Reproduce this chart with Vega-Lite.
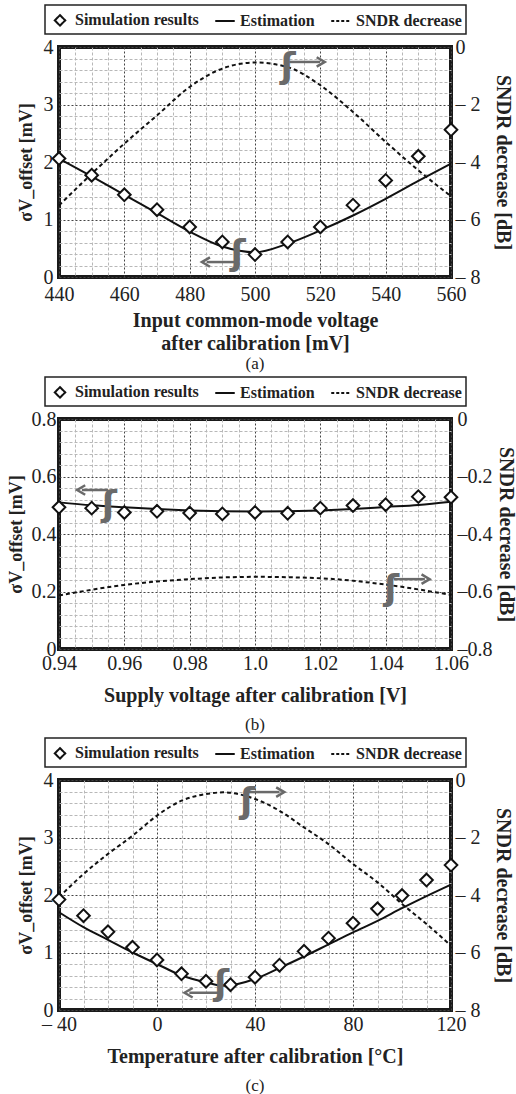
{
  "$schema": "https://vega.github.io/schema/vega-lite/v6.json",
  "padding": {"left": 5, "top": 2, "right": 0, "bottom": 0},
  "spacing": 0,
  "resolve": {"scale": {"color": "independent"}, "legend": {"color": "independent"}},
  "config": {
    "font": "Liberation Serif",
    "background": "white",
    "view": {"stroke": "#1a1a1a", "strokeWidth": 4},
    "axis": {
      "labelFont": "Liberation Serif", "labelFontSize": 20, "labelColor": "#222",
      "titleFont": "Liberation Serif", "titleFontSize": 20, "titleFontWeight": "bold", "titleColor": "#222",
      "ticks": false, "domain": false, "labelOverlap": false, "labelFlush": false
    },
    "legend": {
      "orient": "none", "legendX": -14, "legendY": -42, "direction": "horizontal",
      "strokeColor": "#222", "strokeWidth": 1.5, "padding": 4, "columnPadding": 12,
      "labelFont": "Liberation Serif", "labelFontSize": 16, "labelFontWeight": "bold", "labelColor": "#222",
      "symbolSize": 400, "symbolStrokeWidth": 2, "title": null,
      "labelOffset": 4
    },
    "title": {"font": "Liberation Serif", "fontSize": 17, "fontWeight": "normal", "orient": "bottom", "color": "#222"}
  },
  "vconcat": [
    {
      "width": 392, "height": 230,
      "title": {"text": "(a)", "offset": 3},
      "data": {"values": [
        {"series": "Simulation results", "x": 440, "y": 2.06},
        {"series": "Simulation results", "x": 450, "y": 1.77},
        {"series": "Simulation results", "x": 460, "y": 1.43},
        {"series": "Simulation results", "x": 470, "y": 1.17},
        {"series": "Simulation results", "x": 480, "y": 0.87},
        {"series": "Simulation results", "x": 490, "y": 0.61},
        {"series": "Simulation results", "x": 500, "y": 0.39},
        {"series": "Simulation results", "x": 510, "y": 0.61},
        {"series": "Simulation results", "x": 520, "y": 0.87},
        {"series": "Simulation results", "x": 530, "y": 1.25},
        {"series": "Simulation results", "x": 540, "y": 1.68},
        {"series": "Simulation results", "x": 550, "y": 2.10},
        {"series": "Simulation results", "x": 560, "y": 2.56},
        {"series": "Estimation", "x": 440, "y": 2.06},
        {"series": "Estimation", "x": 450, "y": 1.75},
        {"series": "Estimation", "x": 460, "y": 1.43},
        {"series": "Estimation", "x": 470, "y": 1.11},
        {"series": "Estimation", "x": 480, "y": 0.79},
        {"series": "Estimation", "x": 490, "y": 0.53},
        {"series": "Estimation", "x": 500, "y": 0.43},
        {"series": "Estimation", "x": 510, "y": 0.58},
        {"series": "Estimation", "x": 520, "y": 0.81},
        {"series": "Estimation", "x": 530, "y": 1.07},
        {"series": "Estimation", "x": 540, "y": 1.36},
        {"series": "Estimation", "x": 550, "y": 1.67},
        {"series": "Estimation", "x": 560, "y": 1.97},
        {"series": "SNDR decrease", "x": 440, "y": -5.51},
        {"series": "SNDR decrease", "x": 450, "y": -4.41},
        {"series": "SNDR decrease", "x": 460, "y": -3.36},
        {"series": "SNDR decrease", "x": 470, "y": -2.38},
        {"series": "SNDR decrease", "x": 480, "y": -1.39},
        {"series": "SNDR decrease", "x": 490, "y": -0.75},
        {"series": "SNDR decrease", "x": 500, "y": -0.54},
        {"series": "SNDR decrease", "x": 510, "y": -0.70},
        {"series": "SNDR decrease", "x": 520, "y": -1.33},
        {"series": "SNDR decrease", "x": 530, "y": -2.26},
        {"series": "SNDR decrease", "x": 540, "y": -3.30},
        {"series": "SNDR decrease", "x": 550, "y": -4.29},
        {"series": "SNDR decrease", "x": 560, "y": -5.19},
        {"series": "curl", "x": 494.8, "y": 0.40},
        {"series": "curl", "x": 510.1, "y": 3.66},
        {"series": "arrow", "dir": "left", "x": 485.2, "x2": 494.2, "y": 0.26},
        {"series": "arrow", "dir": "right", "x": 510.5, "x2": 519.9, "y": 3.74}
      ]},
      "encoding": {
        "x": {"field": "x", "type": "quantitative",
          "scale": {"domain": [440, 560], "nice": false, "zero": false},
          "axis": {
            "values": [440,445,450,455,460,465,470,475,480,485,490,495,500,505,510,515,520,525,530,535,540,545,550,555,560],
            "grid": true,
            "gridColor": {"condition": {"test": "datum.value % 20 === 0", "value": "#444"}, "value": "#b8b8b8"},
            "gridDash": {"condition": {"test": "datum.value % 20 === 0", "value": [2, 2]}, "value": [3, 2]},
            "labelExpr": "datum.value % 20 === 0 ? '' + datum.value : ''",
            "labelPadding": 7,
            "title": ["Input common-mode voltage", "after calibration [mV]"],
            "titleLineHeight": 23,
            "titlePadding": 6
          }}
      },
      "layer": [
        {
          "transform": [{"filter": "datum.series === 'Estimation'"}],
          "mark": {"type": "line", "strokeWidth": 2, "interpolate": "monotone"},
          "encoding": {
            "color": {"field": "series", "type": "nominal",
              "scale": {"domain": ["Simulation results", "Estimation", "SNDR decrease"], "range": ["#111", "#111", "#111"]},
              "legend": {
                "encode": {"symbols": {"update": {
                  "shape": {"signal": "datum.value === 'Simulation results' ? 'diamond' : 'stroke'"},
                  "size": {"signal": "datum.value === 'Simulation results' ? 110 : 380"},
                  "fill": {"signal": "datum.value === 'Simulation results' ? 'white' : 'transparent'"},
                  "stroke": {"value": "#111"},
                  "strokeWidth": {"value": 2},
                  "strokeDash": {"signal": "datum.value === 'SNDR decrease' ? [3, 2] : [1, 0]"},
                  "opacity": {"value": 1}
                }}}
              }},
            "y": {"field": "y", "type": "quantitative",
            "scale": {"domain": [0, 4], "nice": false},
            "axis": {
              "orient": "left",
              "values": [0,0.2,0.4,0.6,0.8,1,1.2,1.4,1.6,1.8,2,2.2,2.4,2.6,2.8,3,3.2,3.4,3.6,3.8,4],
              "grid": true,
              "gridColor": {"condition": {"test": "abs(datum.value - round(datum.value)) < 1e-6", "value": "#444"}, "value": "#b8b8b8"},
              "gridDash": {"condition": {"test": "abs(datum.value - round(datum.value)) < 1e-6", "value": [2, 2]}, "value": [3, 2]},
              "labelExpr": "abs(datum.value - round(datum.value)) < 1e-6 ? '' + round(datum.value) : ''",
              "labelPadding": 6,
              "title": "σV_offset [mV]", "titleFontSize": 18, "titlePadding": 8
            }}}
        },
        {
          "transform": [{"filter": "datum.series === 'SNDR decrease'"}],
          "mark": {"type": "line", "strokeWidth": 2, "strokeDash": [4, 3], "interpolate": "monotone"},
          "encoding": {
            "color": {"field": "series", "type": "nominal"},
            "y": {"field": "y", "type": "quantitative",
            "scale": {"domain": [-8, 0], "nice": false},
            "axis": {
              "orient": "right", "values": [-8, -6, -4, -2, 0], "grid": false,
              "labelExpr": "datum.value < 0 ? '– ' + abs(datum.value) : '\u2002' + '0'",
              "labelPadding": 4,
              "title": "SNDR decrease [dB]", "titlePadding": 12
            }}}
        },
        {
          "transform": [{"filter": "datum.series === 'Simulation results'"}],
          "mark": {"type": "point", "shape": "diamond", "size": 160, "filled": false, "fill": "white", "strokeWidth": 2, "opacity": 1},
          "encoding": {
            "color": {"field": "series", "type": "nominal"},
            "y": {"field": "y", "type": "quantitative", "scale": {"domain": [0, 4], "nice": false}, "axis": null}}
        },
        {
          "transform": [{"filter": "datum.series === 'arrow'"}],
          "mark": {"type": "rule", "color": "#6a6a6a", "strokeWidth": 2.5},
          "encoding": {
            "x2": {"field": "x2"},
            "y": {"field": "y", "type": "quantitative", "scale": {"domain": [0, 4], "nice": false}, "axis": null}}
        },
        {
          "transform": [{"filter": "datum.series === 'arrow' && datum.dir === 'left'"}],
          "mark": {"type": "point", "shape": "M0.7,-1L-1,0L0.7,1", "size": 90, "filled": false, "color": "#6a6a6a", "strokeWidth": 2.5, "opacity": 1},
          "encoding": {
            "y": {"field": "y", "type": "quantitative", "scale": {"domain": [0, 4], "nice": false}, "axis": null}}
        },
        {
          "transform": [{"filter": "datum.series === 'arrow' && datum.dir === 'right'"}],
          "mark": {"type": "point", "shape": "M-0.7,-1L1,0L-0.7,1", "size": 90, "filled": false, "color": "#6a6a6a", "strokeWidth": 2.5, "opacity": 1},
          "encoding": {
            "x": {"field": "x2", "type": "quantitative"},
            "y": {"field": "y", "type": "quantitative", "scale": {"domain": [0, 4], "nice": false}, "axis": null}}
        },
        {
          "transform": [{"filter": "datum.series === 'curl'"}],
          "mark": {"type": "text", "text": "ʃ", "font": "DejaVu Sans", "fontSize": 36, "fontWeight": "bold", "color": "#6a6a6a", "baseline": "middle", "align": "center"},
          "encoding": {
            "y": {"field": "y", "type": "quantitative", "scale": {"domain": [0, 4], "nice": false}, "axis": null}}
        }
      ],
      "resolve": {"scale": {"y": "independent"}}
    },
    {
      "width": 392, "height": 230,
      "title": {"text": "(b)", "offset": 12},
      "data": {"values": [
        {"series": "Simulation results", "x": 0.94, "y": 0.493},
        {"series": "Simulation results", "x": 0.95, "y": 0.490},
        {"series": "Simulation results", "x": 0.96, "y": 0.475},
        {"series": "Simulation results", "x": 0.97, "y": 0.479},
        {"series": "Simulation results", "x": 0.98, "y": 0.473},
        {"series": "Simulation results", "x": 0.99, "y": 0.470},
        {"series": "Simulation results", "x": 1.00, "y": 0.475},
        {"series": "Simulation results", "x": 1.01, "y": 0.472},
        {"series": "Simulation results", "x": 1.02, "y": 0.490},
        {"series": "Simulation results", "x": 1.03, "y": 0.499},
        {"series": "Simulation results", "x": 1.04, "y": 0.502},
        {"series": "Simulation results", "x": 1.05, "y": 0.530},
        {"series": "Simulation results", "x": 1.06, "y": 0.528},
        {"series": "Estimation", "x": 0.94, "y": 0.510},
        {"series": "Estimation", "x": 0.95, "y": 0.500},
        {"series": "Estimation", "x": 0.96, "y": 0.493},
        {"series": "Estimation", "x": 0.97, "y": 0.487},
        {"series": "Estimation", "x": 0.98, "y": 0.482},
        {"series": "Estimation", "x": 0.99, "y": 0.479},
        {"series": "Estimation", "x": 1.00, "y": 0.478},
        {"series": "Estimation", "x": 1.01, "y": 0.479},
        {"series": "Estimation", "x": 1.02, "y": 0.482},
        {"series": "Estimation", "x": 1.03, "y": 0.487},
        {"series": "Estimation", "x": 1.04, "y": 0.494},
        {"series": "Estimation", "x": 1.05, "y": 0.501},
        {"series": "Estimation", "x": 1.06, "y": 0.512},
        {"series": "SNDR decrease", "x": 0.94, "y": -0.614},
        {"series": "SNDR decrease", "x": 0.96, "y": -0.577},
        {"series": "SNDR decrease", "x": 0.98, "y": -0.557},
        {"series": "SNDR decrease", "x": 1.00, "y": -0.549},
        {"series": "SNDR decrease", "x": 1.02, "y": -0.554},
        {"series": "SNDR decrease", "x": 1.04, "y": -0.576},
        {"series": "SNDR decrease", "x": 1.06, "y": -0.612},
        {"series": "curl", "x": 0.9554, "y": 0.50},
        {"series": "curl", "x": 1.0418, "y": 0.21},
        {"series": "arrow", "dir": "left", "x": 0.9470, "x2": 0.9550, "y": 0.553},
        {"series": "arrow", "dir": "right", "x": 1.0425, "x2": 1.0520, "y": 0.243}
      ]},
      "encoding": {
        "x": {"field": "x", "type": "quantitative",
          "scale": {"domain": [0.94, 1.06], "nice": false, "zero": false},
          "axis": {
            "values": [0.94,0.945,0.95,0.955,0.96,0.965,0.97,0.975,0.98,0.985,0.99,0.995,1,1.005,1.01,1.015,1.02,1.025,1.03,1.035,1.04,1.045,1.05,1.055,1.06],
            "grid": true,
            "gridColor": {"condition": {"test": "abs(datum.value * 50 - round(datum.value * 50)) < 1e-6", "value": "#444"}, "value": "#b8b8b8"},
            "gridDash": {"condition": {"test": "abs(datum.value * 50 - round(datum.value * 50)) < 1e-6", "value": [2, 2]}, "value": [3, 2]},
            "labelExpr": "abs(datum.value * 50 - round(datum.value * 50)) < 1e-6 ? (abs(datum.value - 1) < 1e-6 ? '1.0' : format(datum.value, '.2f')) : ''",
            "labelPadding": 4,
            "title": "Supply voltage after calibration [V]",
            "titlePadding": 12
          }}
      },
      "layer": [
        {
          "transform": [{"filter": "datum.series === 'Estimation'"}],
          "mark": {"type": "line", "strokeWidth": 2, "interpolate": "monotone"},
          "encoding": {
            "color": {"field": "series", "type": "nominal",
              "scale": {"domain": ["Simulation results", "Estimation", "SNDR decrease"], "range": ["#111", "#111", "#111"]},
              "legend": {
                "encode": {"symbols": {"update": {
                  "shape": {"signal": "datum.value === 'Simulation results' ? 'diamond' : 'stroke'"},
                  "size": {"signal": "datum.value === 'Simulation results' ? 110 : 380"},
                  "fill": {"signal": "datum.value === 'Simulation results' ? 'white' : 'transparent'"},
                  "stroke": {"value": "#111"},
                  "strokeWidth": {"value": 2},
                  "strokeDash": {"signal": "datum.value === 'SNDR decrease' ? [3, 2] : [1, 0]"},
                  "opacity": {"value": 1}
                }}}
              }},
            "y": {"field": "y", "type": "quantitative",
            "scale": {"domain": [0, 0.8], "nice": false},
            "axis": {
              "orient": "left",
              "values": [0,0.04,0.08,0.12,0.16,0.2,0.24,0.28,0.32,0.36,0.4,0.44,0.48,0.52,0.56,0.6,0.64,0.68,0.72,0.76,0.8],
              "grid": true,
              "gridColor": {"condition": {"test": "abs(datum.value * 5 - round(datum.value * 5)) < 1e-6", "value": "#444"}, "value": "#b8b8b8"},
              "gridDash": {"condition": {"test": "abs(datum.value * 5 - round(datum.value * 5)) < 1e-6", "value": [2, 2]}, "value": [3, 2]},
              "labelExpr": "abs(datum.value * 5 - round(datum.value * 5)) < 1e-6 ? (abs(datum.value) < 1e-6 ? '0' : format(datum.value, '.1f')) : ''",
              "labelPadding": 3,
              "title": "σV_offset [mV]", "titleFontSize": 18, "titlePadding": 6
            }}}
        },
        {
          "transform": [{"filter": "datum.series === 'SNDR decrease'"}],
          "mark": {"type": "line", "strokeWidth": 2, "strokeDash": [4, 3], "interpolate": "monotone"},
          "encoding": {
            "color": {"field": "series", "type": "nominal"},
            "y": {"field": "y", "type": "quantitative",
            "scale": {"domain": [-0.8, 0], "nice": false},
            "axis": {
              "orient": "right", "values": [-0.8, -0.6, -0.4, -0.2, 0], "grid": false,
              "labelExpr": "datum.value < 0 ? '–' + format(abs(datum.value), '.1f') : '\u2002' + '0'",
              "labelPadding": 6,
              "title": "SNDR decrease [dB]", "titlePadding": 3
            }}}
        },
        {
          "transform": [{"filter": "datum.series === 'Simulation results'"}],
          "mark": {"type": "point", "shape": "diamond", "size": 160, "filled": false, "fill": "white", "strokeWidth": 2, "opacity": 1},
          "encoding": {
            "color": {"field": "series", "type": "nominal"},
            "y": {"field": "y", "type": "quantitative", "scale": {"domain": [0, 0.8], "nice": false}, "axis": null}}
        },
        {
          "transform": [{"filter": "datum.series === 'arrow'"}],
          "mark": {"type": "rule", "color": "#6a6a6a", "strokeWidth": 2.5},
          "encoding": {
            "x2": {"field": "x2"},
            "y": {"field": "y", "type": "quantitative", "scale": {"domain": [0, 0.8], "nice": false}, "axis": null}}
        },
        {
          "transform": [{"filter": "datum.series === 'arrow' && datum.dir === 'left'"}],
          "mark": {"type": "point", "shape": "M0.7,-1L-1,0L0.7,1", "size": 90, "filled": false, "color": "#6a6a6a", "strokeWidth": 2.5, "opacity": 1},
          "encoding": {
            "y": {"field": "y", "type": "quantitative", "scale": {"domain": [0, 0.8], "nice": false}, "axis": null}}
        },
        {
          "transform": [{"filter": "datum.series === 'arrow' && datum.dir === 'right'"}],
          "mark": {"type": "point", "shape": "M-0.7,-1L1,0L-0.7,1", "size": 90, "filled": false, "color": "#6a6a6a", "strokeWidth": 2.5, "opacity": 1},
          "encoding": {
            "x": {"field": "x2", "type": "quantitative"},
            "y": {"field": "y", "type": "quantitative", "scale": {"domain": [0, 0.8], "nice": false}, "axis": null}}
        },
        {
          "transform": [{"filter": "datum.series === 'curl'"}],
          "mark": {"type": "text", "text": "ʃ", "font": "DejaVu Sans", "fontSize": 36, "fontWeight": "bold", "color": "#6a6a6a", "baseline": "middle", "align": "center"},
          "encoding": {
            "y": {"field": "y", "type": "quantitative", "scale": {"domain": [0, 0.8], "nice": false}, "axis": null}}
        }
      ],
      "resolve": {"scale": {"y": "independent"}}
    },
    {
      "width": 392, "height": 230,
      "title": {"text": "(c)", "offset": 12},
      "data": {"values": [
        {"series": "Simulation results", "x": -40, "y": 1.92},
        {"series": "Simulation results", "x": -30, "y": 1.64},
        {"series": "Simulation results", "x": -20, "y": 1.36},
        {"series": "Simulation results", "x": -10, "y": 1.09},
        {"series": "Simulation results", "x": 0, "y": 0.87},
        {"series": "Simulation results", "x": 10, "y": 0.63},
        {"series": "Simulation results", "x": 20, "y": 0.50},
        {"series": "Simulation results", "x": 30, "y": 0.44},
        {"series": "Simulation results", "x": 40, "y": 0.57},
        {"series": "Simulation results", "x": 50, "y": 0.78},
        {"series": "Simulation results", "x": 60, "y": 1.02},
        {"series": "Simulation results", "x": 70, "y": 1.25},
        {"series": "Simulation results", "x": 80, "y": 1.51},
        {"series": "Simulation results", "x": 90, "y": 1.76},
        {"series": "Simulation results", "x": 100, "y": 1.99},
        {"series": "Simulation results", "x": 110, "y": 2.26},
        {"series": "Simulation results", "x": 120, "y": 2.52},
        {"series": "Estimation", "x": -40, "y": 1.70},
        {"series": "Estimation", "x": -30, "y": 1.44},
        {"series": "Estimation", "x": -20, "y": 1.22},
        {"series": "Estimation", "x": -10, "y": 1.00},
        {"series": "Estimation", "x": 0, "y": 0.80},
        {"series": "Estimation", "x": 10, "y": 0.60},
        {"series": "Estimation", "x": 20, "y": 0.48},
        {"series": "Estimation", "x": 27, "y": 0.42},
        {"series": "Estimation", "x": 40, "y": 0.54},
        {"series": "Estimation", "x": 50, "y": 0.73},
        {"series": "Estimation", "x": 60, "y": 0.93},
        {"series": "Estimation", "x": 70, "y": 1.14},
        {"series": "Estimation", "x": 80, "y": 1.35},
        {"series": "Estimation", "x": 90, "y": 1.55},
        {"series": "Estimation", "x": 100, "y": 1.77},
        {"series": "Estimation", "x": 110, "y": 1.98},
        {"series": "Estimation", "x": 120, "y": 2.18},
        {"series": "SNDR decrease", "x": -40, "y": -4.08},
        {"series": "SNDR decrease", "x": -30, "y": -3.27},
        {"series": "SNDR decrease", "x": -20, "y": -2.57},
        {"series": "SNDR decrease", "x": -10, "y": -1.94},
        {"series": "SNDR decrease", "x": 0, "y": -1.24},
        {"series": "SNDR decrease", "x": 10, "y": -0.72},
        {"series": "SNDR decrease", "x": 20, "y": -0.49},
        {"series": "SNDR decrease", "x": 27, "y": -0.43},
        {"series": "SNDR decrease", "x": 40, "y": -0.66},
        {"series": "SNDR decrease", "x": 50, "y": -1.07},
        {"series": "SNDR decrease", "x": 60, "y": -1.65},
        {"series": "SNDR decrease", "x": 70, "y": -2.23},
        {"series": "SNDR decrease", "x": 80, "y": -2.92},
        {"series": "SNDR decrease", "x": 90, "y": -3.56},
        {"series": "SNDR decrease", "x": 100, "y": -4.31},
        {"series": "SNDR decrease", "x": 110, "y": -5.01},
        {"series": "SNDR decrease", "x": 120, "y": -5.76},
        {"series": "curl", "x": 26.3, "y": 0.45},
        {"series": "curl", "x": 36.9, "y": 3.62},
        {"series": "arrow", "dir": "left", "x": 13.2, "x2": 25.5, "y": 0.30},
        {"series": "arrow", "dir": "right", "x": 37.5, "x2": 50.0, "y": 3.79}
      ]},
      "encoding": {
        "x": {"field": "x", "type": "quantitative",
          "scale": {"domain": [-40, 120], "nice": false, "zero": false},
          "axis": {
            "values": [-40,-30,-20,-10,0,10,20,30,40,50,60,70,80,90,100,110,120],
            "grid": true,
            "gridColor": {"condition": {"test": "datum.value % 40 === 0", "value": "#444"}, "value": "#b8b8b8"},
            "gridDash": {"condition": {"test": "datum.value % 40 === 0", "value": [2, 2]}, "value": [3, 2]},
            "labelExpr": "datum.value % 40 === 0 ? (datum.value < 0 ? '– ' + abs(datum.value) : '' + datum.value) : ''",
            "labelPadding": 4,
            "title": "Temperature after calibration [°C]",
            "titlePadding": 12
          }}
      },
      "layer": [
        {
          "transform": [{"filter": "datum.series === 'Estimation'"}],
          "mark": {"type": "line", "strokeWidth": 2, "interpolate": "monotone"},
          "encoding": {
            "color": {"field": "series", "type": "nominal",
              "scale": {"domain": ["Simulation results", "Estimation", "SNDR decrease"], "range": ["#111", "#111", "#111"]},
              "legend": {
                "encode": {"symbols": {"update": {
                  "shape": {"signal": "datum.value === 'Simulation results' ? 'diamond' : 'stroke'"},
                  "size": {"signal": "datum.value === 'Simulation results' ? 110 : 380"},
                  "fill": {"signal": "datum.value === 'Simulation results' ? 'white' : 'transparent'"},
                  "stroke": {"value": "#111"},
                  "strokeWidth": {"value": 2},
                  "strokeDash": {"signal": "datum.value === 'SNDR decrease' ? [3, 2] : [1, 0]"},
                  "opacity": {"value": 1}
                }}}
              }},
            "y": {"field": "y", "type": "quantitative",
            "scale": {"domain": [0, 4], "nice": false},
            "axis": {
              "orient": "left",
              "values": [0,0.2,0.4,0.6,0.8,1,1.2,1.4,1.6,1.8,2,2.2,2.4,2.6,2.8,3,3.2,3.4,3.6,3.8,4],
              "grid": true,
              "gridColor": {"condition": {"test": "abs(datum.value - round(datum.value)) < 1e-6", "value": "#444"}, "value": "#b8b8b8"},
              "gridDash": {"condition": {"test": "abs(datum.value - round(datum.value)) < 1e-6", "value": [2, 2]}, "value": [3, 2]},
              "labelExpr": "abs(datum.value - round(datum.value)) < 1e-6 ? '' + round(datum.value) : ''",
              "labelPadding": 6,
              "title": "σV_offset [mV]", "titleFontSize": 18, "titlePadding": 8
            }}}
        },
        {
          "transform": [{"filter": "datum.series === 'SNDR decrease'"}],
          "mark": {"type": "line", "strokeWidth": 2, "strokeDash": [4, 3], "interpolate": "monotone"},
          "encoding": {
            "color": {"field": "series", "type": "nominal"},
            "y": {"field": "y", "type": "quantitative",
            "scale": {"domain": [-8, 0], "nice": false},
            "axis": {
              "orient": "right", "values": [-8, -6, -4, -2, 0], "grid": false,
              "labelExpr": "datum.value < 0 ? '– ' + abs(datum.value) : '\u2002' + '0'",
              "labelPadding": 4,
              "title": "SNDR decrease [dB]", "titlePadding": 12
            }}}
        },
        {
          "transform": [{"filter": "datum.series === 'Simulation results'"}],
          "mark": {"type": "point", "shape": "diamond", "size": 160, "filled": false, "fill": "white", "strokeWidth": 2, "opacity": 1},
          "encoding": {
            "color": {"field": "series", "type": "nominal"},
            "y": {"field": "y", "type": "quantitative", "scale": {"domain": [0, 4], "nice": false}, "axis": null}}
        },
        {
          "transform": [{"filter": "datum.series === 'arrow'"}],
          "mark": {"type": "rule", "color": "#6a6a6a", "strokeWidth": 2.5},
          "encoding": {
            "x2": {"field": "x2"},
            "y": {"field": "y", "type": "quantitative", "scale": {"domain": [0, 4], "nice": false}, "axis": null}}
        },
        {
          "transform": [{"filter": "datum.series === 'arrow' && datum.dir === 'left'"}],
          "mark": {"type": "point", "shape": "M0.7,-1L-1,0L0.7,1", "size": 90, "filled": false, "color": "#6a6a6a", "strokeWidth": 2.5, "opacity": 1},
          "encoding": {
            "y": {"field": "y", "type": "quantitative", "scale": {"domain": [0, 4], "nice": false}, "axis": null}}
        },
        {
          "transform": [{"filter": "datum.series === 'arrow' && datum.dir === 'right'"}],
          "mark": {"type": "point", "shape": "M-0.7,-1L1,0L-0.7,1", "size": 90, "filled": false, "color": "#6a6a6a", "strokeWidth": 2.5, "opacity": 1},
          "encoding": {
            "x": {"field": "x2", "type": "quantitative"},
            "y": {"field": "y", "type": "quantitative", "scale": {"domain": [0, 4], "nice": false}, "axis": null}}
        },
        {
          "transform": [{"filter": "datum.series === 'curl'"}],
          "mark": {"type": "text", "text": "ʃ", "font": "DejaVu Sans", "fontSize": 36, "fontWeight": "bold", "color": "#6a6a6a", "baseline": "middle", "align": "center"},
          "encoding": {
            "y": {"field": "y", "type": "quantitative", "scale": {"domain": [0, 4], "nice": false}, "axis": null}}
        }
      ],
      "resolve": {"scale": {"y": "independent"}}
    }
  ]
}
